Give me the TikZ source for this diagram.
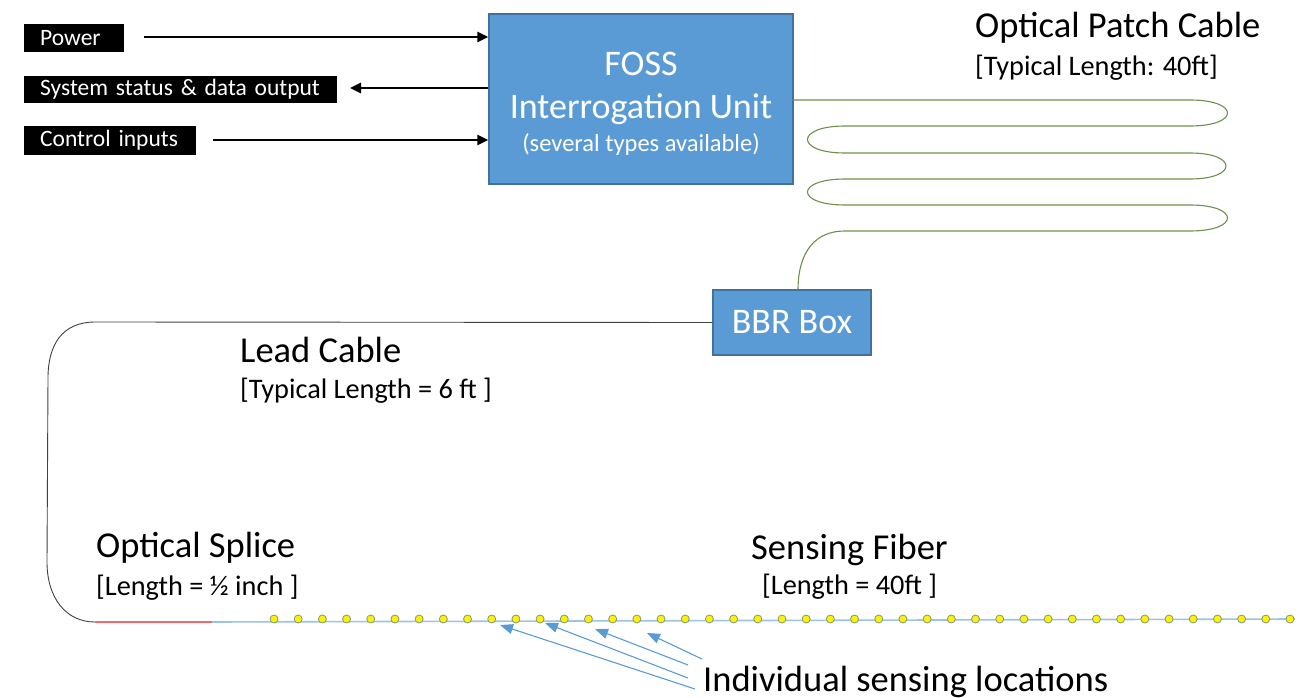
\documentclass[tikz,border=0pt]{standalone}
\usepackage{fontspec}
\setmainfont{Carlito}
\usetikzlibrary{arrows.meta}
\definecolor{boxblue}{HTML}{5B9BD5}
\definecolor{boxedge}{HTML}{41719C}
\definecolor{patchgreen}{HTML}{6E8F4A}
\definecolor{leadgrey}{HTML}{404040}
\definecolor{splicered}{HTML}{F4696B}
\definecolor{fiberblue}{HTML}{9DC3E6}
\definecolor{dotedge}{HTML}{7F9A76}
\tikzset{
  lbl/.style={fill=black, text=white, inner xsep=0pt, inner ysep=0pt, align=left, font=\fontsize{23.5}{26}\selectfont, anchor=west},
  blackarrow/.style={line width=2.6pt, -{Triangle[length=11pt,width=10pt]}},
  unitbox/.style={fill=boxblue, draw=boxedge, line width=1.5pt, inner sep=0pt},
  whitetxt/.style={text=white, inner sep=0pt, anchor=base},
  head/.style={inner sep=0pt, anchor=base west, font=\fontsize{36.5}{40}\selectfont},
  sub/.style={inner sep=0pt, anchor=base west, font=\fontsize{28.3}{30}\selectfont},
  patch/.style={draw=patchgreen, line width=1.1pt},
  sensedot/.style={circle, fill=yellow, draw=dotedge, line width=0.8pt, minimum size=8pt, inner sep=0pt},
  ptr/.style={draw=boxblue, line width=1.1pt, -{Triangle[length=13pt,width=10pt]}, shorten >=0pt}
}
\begin{document}
\begin{tikzpicture}[x=1pt,y=-1pt]
\useasboundingbox (0,0) rectangle (1310,698);
% black labels
\node[lbl, text width=100pt, minimum height=28pt] (pw) at (24,38) {\hspace*{16pt}Power};
\node[lbl, text width=313pt, minimum height=27pt] (st) at (24,89.5) {\hspace*{16pt}System status \& data output};
\node[lbl, text width=172pt, minimum height=29pt] (ci) at (24,140.5) {\hspace*{16pt}Control inputs};
% FOSS unit
\node[unitbox, minimum width=304pt, minimum height=170pt] (foss) at (641,99) {};
\node[whitetxt, font=\fontsize{36}{40}\selectfont] (t1) at (641,76) {FOSS};
\node[whitetxt, font=\fontsize{36}{40}\selectfont] (t2) at (641,119) {Interrogation Unit};
\node[whitetxt, font=\fontsize{24.5}{26}\selectfont] (t3) at (641,152) {(several types available)};
% arrows
\coordinate (pwS) at (144,37);
\coordinate (ciS) at (213,140);
\coordinate (stE) at (350,88);
\draw[blackarrow] (pwS) -- (pwS -| foss.west);
\draw[blackarrow] (stE -| foss.west) -- (stE);
\draw[blackarrow] (ciS) -- (ciS -| foss.west);
% BBR box
\node[unitbox, minimum width=158pt, minimum height=65pt, text=white, font=\fontsize{36}{40}\selectfont] (bbr) at (792,322.5) {BBR Box};
% patch cable
\coordinate (p0) at (793,100);
\draw[patch] (p0) -- (1190,100)
  .. controls (1240,100) and (1240,126) .. (1190,126) -- (845,126)
  .. controls (795,126) and (795,153) .. (845,153) -- (1190,153)
  .. controls (1238,153) and (1238,179) .. (1190,179) -- (845,179)
  .. controls (795,179) and (795,205) .. (845,205) -- (1190,205)
  .. controls (1240,205) and (1240,231) .. (1190,231) -- (845,231)
  .. controls (808,231) and (798,262) .. (bbr.north -| 798,0);
% lead cable
\coordinate (spA) at (95,622);
\coordinate (spB) at (212,622);
\coordinate (fEnd) at (1295,619);
\draw[leadgrey, line width=0.9pt] (bbr.west) -- (95,322)
  .. controls (62,322) and (48,345) .. (48,378) -- (47,562)
  .. controls (47,598) and (66,622) .. (spA);
\draw[splicered, line width=1.4pt] (spA) -- (spB);
\draw[fiberblue, line width=1.6pt] (spB) -- (fEnd);
% sensing dots
\foreach \i in {0,...,42} {
  \node[sensedot] (d\i) at ({274+24.19*\i},619) {};
}
% labels
\node[head] (opc) at (975,38) {Optical Patch Cable};
\node[sub] (opcl) at (975,76) {[Typical Length: 40ft]};
\node[head] (lc) at (240,362) {Lead Cable};
\node[sub] (lcl) at (240,398) {[Typical Length = 6 ft ]};
\node[head] (os) at (96,557) {Optical Splice};
\node[sub] (osl) at (96,595) {[Length = ½ inch ]};
\node[head] (sf) at (751,559) {Sensing Fiber};
\node[sub] (sfl) at (762,594) {[Length = 40ft ]};
\node[head] (isl) at (703,691) {Individual sensing locations};
% pointers
\coordinate (a1) at (695,689);
\coordinate (a2) at (688,678);
\coordinate (a3) at (688,665);
\coordinate (a4) at (702,659);
\coordinate (b1) at (500,625);
\coordinate (b2) at (545,623);
\coordinate (b3) at (595,629);
\coordinate (b4) at (647,633);
\draw[ptr] (a1) -- (b1);
\draw[ptr] (a2) -- (b2);
\draw[ptr] (a3) -- (b3);
\draw[ptr] (a4) -- (b4);
\end{tikzpicture}
\end{document}
